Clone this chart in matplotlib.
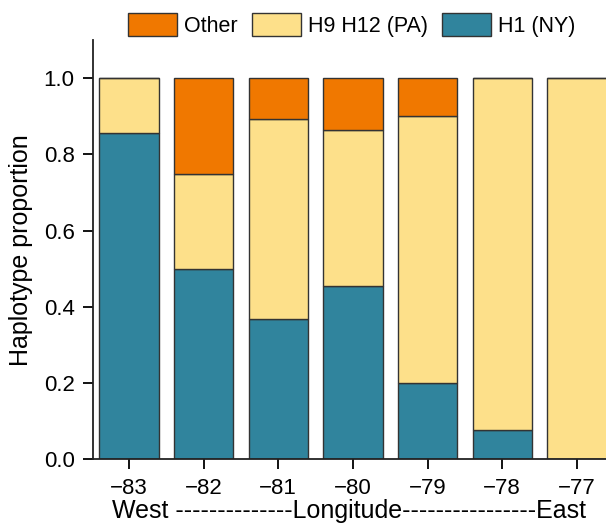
import numpy as np
import matplotlib.pyplot as plt
from matplotlib.patches import Patch

plt.rcParams['font.family'] = ['Liberation Sans', 'DejaVu Sans']

# ---------------- data ---------------- #
longitude = [-83, -82, -81, -80, -79, -78, -77]
h1_ny     = [0.857, 0.500, 0.368, 0.455, 0.200, 0.077, 0.000]
h9_pa     = [0.143, 0.250, 0.526, 0.409, 0.700, 0.923, 1.000]
other     = [0.000, 0.250, 0.106, 0.136, 0.100, 0.000, 0.000]

C_H1    = '#30849D'
C_H9    = '#FDE08A'
C_OTHER = '#F07800'
EDGE    = '#333333'

fig = plt.figure(figsize=(6.06, 5.30), dpi=100)
ax = fig.add_axes([0.153, 0.134, 0.847, 0.790])

x = np.array(longitude)
h1 = np.array(h1_ny)
h9 = np.array(h9_pa)
ot = np.array(other)

ax.bar(x, h1, width=0.795, color=C_H1, edgecolor=EDGE, lw=1)
ax.bar(x, h9, width=0.795, bottom=h1, color=C_H9, edgecolor=EDGE, lw=1)
ax.bar(x, ot, width=0.795, bottom=h1 + h9, color=C_OTHER, edgecolor=EDGE, lw=1)

ax.set_xlim(-83.486, -76.61)
ax.set_ylim(0, 1.1)
ax.set_xticks(longitude)
ax.set_yticks([0, 0.2, 0.4, 0.6, 0.8, 1.0])
ax.set_yticklabels(['0.0', '0.2', '0.4', '0.6', '0.8', '1.0'])
ax.tick_params(direction='out', length=7, width=1.3, labelsize=16)
ax.tick_params(axis='x', pad=7)
ax.tick_params(axis='y', pad=6)

for s in ['top', 'right']:
    ax.spines[s].set_visible(False)
for s in ['left', 'bottom']:
    ax.spines[s].set_linewidth(1.3)
    ax.spines[s].set_color('#222222')

ax.set_ylabel('Haplotype proportion', fontsize=18, labelpad=8)
ax.set_xlabel('West --------------Longitude----------------East', fontsize=18, labelpad=0)

handles = [Patch(facecolor=C_OTHER, edgecolor=EDGE, label='Other'),
           Patch(facecolor=C_H9, edgecolor=EDGE, label='H9 H12 (PA)'),
           Patch(facecolor=C_H1, edgecolor=EDGE, label='H1 (NY)')]
fig.legend(handles=handles, loc='center', bbox_to_anchor=(0.581, 0.953), ncol=3,
           frameon=False, fontsize=15.5, handlelength=2.28, handleheight=1.3,
           handletextpad=0.33, columnspacing=0.65, borderpad=0)

fig.savefig('out.png', dpi=100)
